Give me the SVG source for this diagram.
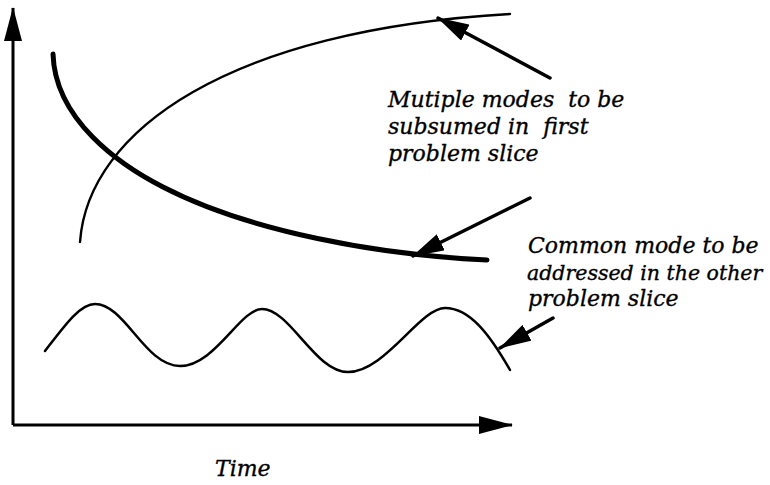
<svg xmlns="http://www.w3.org/2000/svg" width="770" height="485" viewBox="0 0 770 485">
<style>
.ax{stroke:#000;stroke-width:3;fill:none}
.ptr{stroke:#000;stroke-width:3.5;fill:none;stroke-linecap:round}
.cv{stroke:#000;fill:none;stroke-linecap:round}
.lbl{font-family:"DejaVu Serif","Liberation Serif",serif;font-style:italic;font-size:22px;fill:#000;stroke:#000;stroke-width:0.35}
</style>
<defs>
<marker id="axh" markerUnits="userSpaceOnUse" viewBox="0 0 34 18" refX="33" refY="9" markerWidth="34" markerHeight="18" orient="auto">
<path d="M0,0 L34,9 L0,18 Z" fill="#000"/>
</marker>
<marker id="ph" markerUnits="userSpaceOnUse" viewBox="0 0 32 18" refX="31" refY="9" markerWidth="32" markerHeight="18" orient="auto">
<path d="M0,0 L32,9 L0,18 Z" fill="#000"/>
</marker>
</defs>
<rect width="770" height="485" fill="#fff"/>
<g id="axes">
<path class="ax" d="M13,425 L13,8" marker-end="url(#axh)"/>
<path class="ax" d="M13,425 L512,425" marker-end="url(#axh)"/>
</g>
<g id="rising-curve">
<path class="cv" stroke-width="2.4" d="M80,242 C88,130 230,30 510,14"/>
</g>
<g id="falling-curve">
<path class="cv" stroke-width="5" d="M53,54 C55,120 120,165 163,187 C250,232 380,255 487,260"/>
</g>
<g id="wave">
<path class="cv" stroke-width="2.5" d="M45,351 C65,325 80,304 95,304 C125,304 145,366 180,366 C215,366 240,309 262,309 C290,309 315,372 348,372 C385,372 420,308 445,308 C470,308 490,335 510,370"/>
</g>
<g id="connectors">
<path class="ptr" d="M550,78 L438,18" marker-end="url(#ph)"/>
<path class="ptr" d="M530,198 L413,256" marker-end="url(#ph)"/>
<path class="ptr" d="M553,318 L500,348" marker-end="url(#ph)"/>
</g>
<g id="label-multiple">
<text class="lbl" x="388" y="107" xml:space="preserve">Mutiple modes  to be</text>
<text class="lbl" x="388" y="134" xml:space="preserve">subsumed in  first</text>
<text class="lbl" x="388" y="161">problem slice</text>
</g>
<g id="label-common">
<text class="lbl" x="528" y="253">Common mode to be</text>
<text class="lbl" x="527" y="280" style="font-size:20.5px">addressed in the other</text>
<text class="lbl" x="528" y="306">problem slice</text>
</g>
<g id="label-time">
<text class="lbl" x="215" y="476">Time</text>
</g>
</svg>
